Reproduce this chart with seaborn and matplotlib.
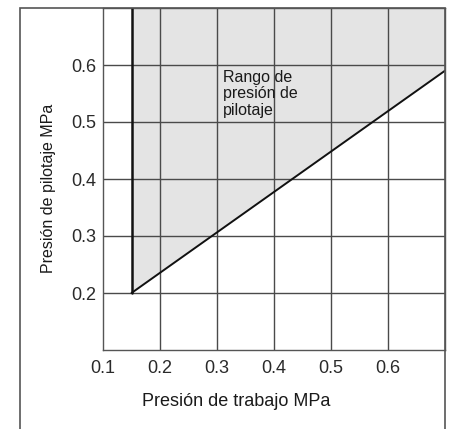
import numpy as np
import pandas as pd
import matplotlib
matplotlib.use("Agg")
import matplotlib.pyplot as plt
import matplotlib.patches as mpatches
import seaborn as sns

# Datos
limite_x = [0.15, 0.15, 0.70]      # presión de trabajo MPa
limite_y = [0.70, 0.20, 0.59]      # presión de pilotaje MPa
ticks_x = [0.1, 0.2, 0.3, 0.4, 0.5, 0.6]
ticks_y = [0.2, 0.3, 0.4, 0.5, 0.6]
texto_rango = "Rango de\npresión de\npilotaje"

sns.set_style("white")
plt.rcParams['font.family'] = ['Liberation Sans', 'DejaVu Sans']

fig = plt.figure(figsize=(4.51, 4.29), dpi=100)
ax = fig.add_axes([103 / 451, 79 / 429, 342 / 451, 342 / 429])

# Zona sombreada (rango de presión de pilotaje)
ax.fill_between(limite_x[1:], limite_y[1:], 0.70, color="#e4e4e4", zorder=1, linewidth=0)

# Rejilla
for t in ticks_x[1:]:
    ax.axvline(t, color="#4a4a4a", lw=1.0, zorder=2)
for t in ticks_y:
    ax.axhline(t, color="#4a4a4a", lw=1.0, zorder=2)

# Línea límite (vertical + diagonal)
df = pd.DataFrame({"x": limite_x, "y": limite_y})
sns.lineplot(data=df.iloc[:2], x="x", y="y", sort=False, estimator=None,
             color="#111111", lw=1.8, ax=ax, zorder=3)
sns.lineplot(data=df.iloc[1:], x="x", y="y", sort=False, estimator=None,
             color="#111111", lw=1.4, ax=ax, zorder=3)

ax.text(0.31, 0.592, texto_rango, fontsize=11.5, color="#1a1a1a", va="top", ha="left",
        linespacing=1.15, zorder=4)

ax.set_xlim(0.1, 0.7)
ax.set_ylim(0.1, 0.7)
ax.set_xticks(ticks_x)
ax.set_yticks(ticks_y)
ax.set_xticklabels([f"{v:.1f}" for v in ticks_x])
ax.set_yticklabels([f"{v:.1f}" for v in ticks_y])
ax.tick_params(axis="both", length=0, labelsize=13, colors="#2a2a2a")
ax.tick_params(axis="x", pad=7)
ax.tick_params(axis="y", pad=5)

ax.set_xlabel("Presión de trabajo MPa", fontsize=13, color="#1a1a1a")
ax.set_ylabel("Presión de pilotaje MPa", fontsize=11.5, color="#1a1a1a")
ax.xaxis.label.set_va("center")
ax.yaxis.label.set_va("center")
ax.xaxis.set_label_coords((236 - 103) / 342, (350 - 402) / 342)
ax.yaxis.set_label_coords((49 - 103) / 342, (350 - 188) / 342)

for s in ["left", "bottom", "top", "right"]:
    ax.spines[s].set_color("#555555")
    ax.spines[s].set_linewidth(1.0)

# Marco exterior
marco = mpatches.Rectangle((20 / 451, -0.05), 425 / 451, 1.05 - 8 / 429,
                           transform=fig.transFigure, fill=False,
                           edgecolor="#555555", lw=1.2, clip_on=False)
fig.add_artist(marco)

fig.savefig("out.png", dpi=100)
